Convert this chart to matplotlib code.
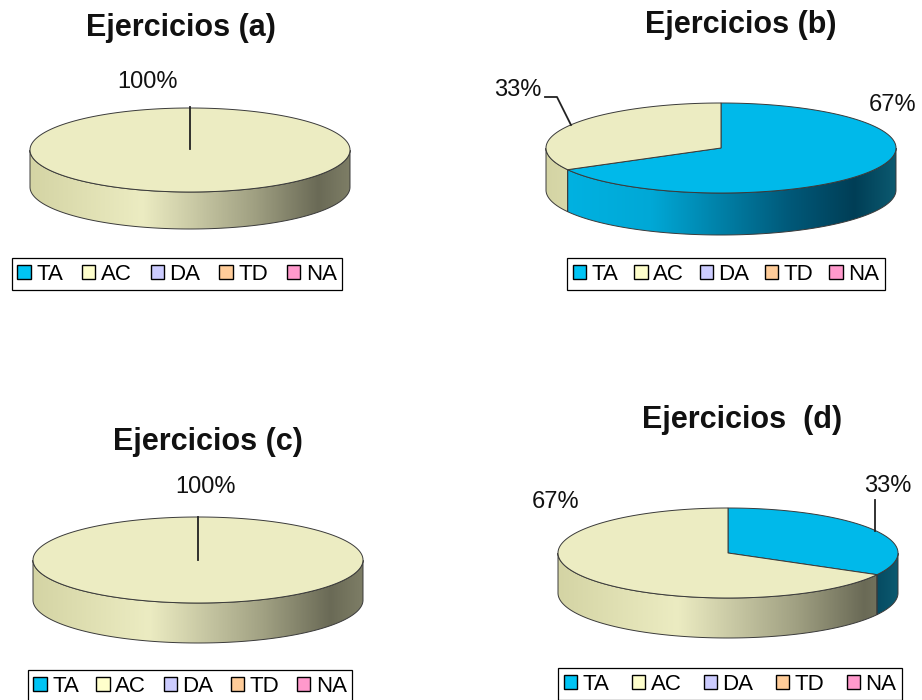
import numpy as np
import matplotlib
matplotlib.use("Agg")
import matplotlib.pyplot as plt
from matplotlib.patches import Polygon, Patch
from matplotlib.colors import LinearSegmentedColormap

plt.rcParams['font.family'] = ['Liberation Sans', 'DejaVu Sans']

categories = ['TA', 'AC', 'DA', 'TD', 'NA']
ejercicios_a = [0, 100, 0, 0, 0]
ejercicios_b = [67, 33, 0, 0, 0]
ejercicios_c = [0, 100, 0, 0, 0]
ejercicios_d = [33, 67, 0, 0, 0]
titles = ['Ejercicios (a)', 'Ejercicios (b)', 'Ejercicios (c)', 'Ejercicios  (d)']

top_colors = ['#00b9ea', '#ececc2', '#ccccff', '#ffcc99', '#ff99cc']
legend_colors = ['#00c4f4', '#ffffcc', '#ccccff', '#ffcc99', '#ff99cc']
side_colors = {
    0: [(0, '#00b4e4'), (0.3, '#00a8d6'), (0.7, '#005878'), (0.88, '#003e56'), (1, '#0c5a70')],
    1: [(0, '#d4d4a4'), (0.35, '#ececc2'), (0.7, '#a0a082'), (0.9, '#6a6a56'), (1, '#7e7e66')],
}

# layout in pixels: center x, center y, rx, ry, depth
pies = [
    dict(cx=190, cy=150, rx=160, ry=42, d=37, title=(181, 28), legend=(177, 274), colsp=0.85,
         labels=[None, (147, 82)], leaders=[None, [(190, 107), (190, 149)]]),
    dict(cx=721, cy=148, rx=175, ry=45, d=42, title=(741, 25), legend=(726, 274), colsp=0.7,
         labels=[(893, 105), (518, 90)], leaders=[None, [(545, 97), (557, 97), (571, 125)]]),
    dict(cx=198, cy=560, rx=165, ry=43, d=40, title=(208, 442), legend=(190, 686), colsp=0.78,
         labels=[None, (205, 487)], leaders=[None, [(198, 517), (198, 560)]]),
    dict(cx=728, cy=553, rx=170, ry=45, d=40, title=(742, 420), legend=(730, 684), colsp=1.0,
         labels=[(888, 486), (556, 502)], leaders=[[(875, 500), (875, 531)], None]),
]
data = [ejercicios_a, ejercicios_b, ejercicios_c, ejercicios_d]

fig = plt.figure(figsize=(9.22, 7.0), dpi=100)
ax = fig.add_axes([0, 0, 1, 1])
ax.set_xlim(0, 922)
ax.set_ylim(700, 0)
ax.axis('off')

edge = '#3a3a3a'


def draw_pie(p, values):
    cx, cy, rx, ry, d = p['cx'], p['cy'], p['rx'], p['ry'], p['d']
    total = float(sum(values))
    start = 90.0
    for i, v in enumerate(values):
        if v == 0:
            continue
        sweep = 360.0 * v / total
        th = np.radians(np.linspace(start, start - sweep, 400))
        xs = cx + rx * np.cos(th)
        ys = cy - ry * np.sin(th)
        # side wall (front half only)
        front = np.sin(th) < 0
        idx = np.where(front)[0]
        if len(idx):
            runs = np.split(idx, np.where(np.diff(idx) > 1)[0] + 1)
            cmap = LinearSegmentedColormap.from_list('s%d' % i, side_colors[i])
            for r in runs:
                sx, sy = xs[r], ys[r]
                pts = np.column_stack([np.r_[sx, sx[::-1]], np.r_[sy, sy[::-1] + d]])
                poly = Polygon(pts, closed=True, facecolor='none', edgecolor=edge, lw=0.7, zorder=3)
                ax.add_patch(poly)
                grad = np.linspace(0, 1, 256).reshape(1, -1)
                im = ax.imshow(grad, cmap=cmap, aspect='auto', zorder=2,
                               extent=(cx - rx, cx + rx, cy + ry + d, cy - ry))
                im.set_clip_path(poly)
        # top face
        if sweep >= 359.9:
            pts = np.column_stack([xs, ys])
        else:
            pts = np.vstack([[cx, cy], np.column_stack([xs, ys])])
        ax.add_patch(Polygon(pts, closed=True, facecolor=top_colors[i], edgecolor=edge,
                             lw=0.7, zorder=4))
        lab = p['labels'][i]
        if lab is not None:
            ax.text(lab[0], lab[1], '%d%%' % v, fontsize=17, ha='center', va='center',
                    color='#111111', zorder=6)
        ld = p['leaders'][i]
        if ld is not None:
            lx, ly = zip(*ld)
            ax.plot(lx, ly, color='#222222', lw=1.3, zorder=5)
        start -= sweep


for p, values, t in zip(pies, data, titles):
    draw_pie(p, values)
    ax.text(p['title'][0], p['title'][1], t, fontsize=22, fontweight='bold',
            ha='center', va='center', color='#111111')
    handles = [Patch(facecolor=c, edgecolor='black', lw=1.0) for c in legend_colors]
    leg = fig.legend(handles, categories, loc='center', ncol=5,
                     bbox_to_anchor=(p['legend'][0] / 922, 1 - p['legend'][1] / 700),
                     fontsize=16, handlelength=0.6, handleheight=0.6, handletextpad=0.25,
                     columnspacing=p['colsp'], borderpad=0.25, borderaxespad=0, fancybox=False,
                     framealpha=1, edgecolor='black')
    leg.get_frame().set_linewidth(0.9)

ax.set_xlim(0, 922)
ax.set_ylim(700, 0)
fig.savefig('out.png', dpi=100)
